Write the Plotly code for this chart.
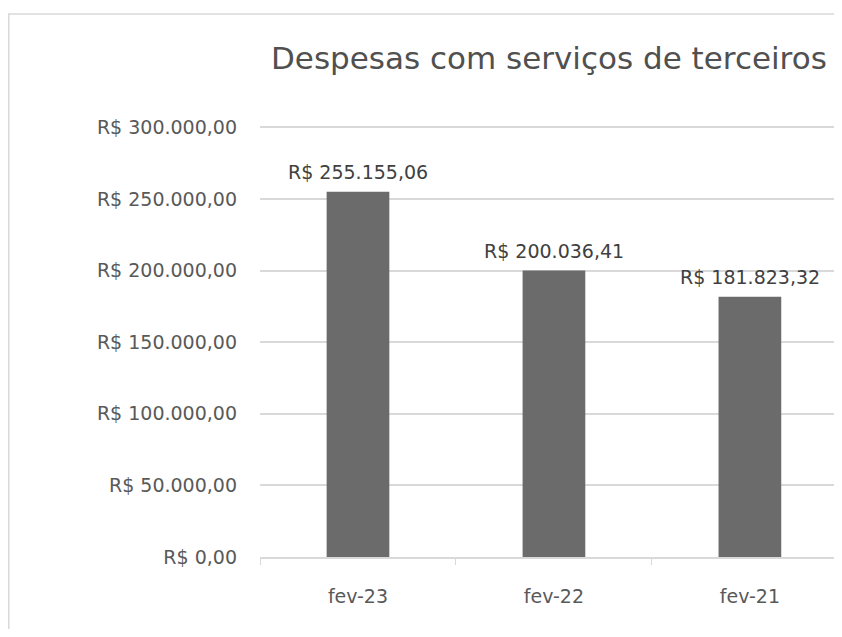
import plotly.graph_objects as go

categories = ["fev-23", "fev-22", "fev-21"]
values = [255155.06, 200036.41, 181823.32]
value_labels = ["R$ 255.155,06", "R$ 200.036,41", "R$ 181.823,32"]
tick_vals = [0, 50000, 100000, 150000, 200000, 250000, 300000]
tick_text = ["R$ 0,00", "R$ 50.000,00", "R$ 100.000,00", "R$ 150.000,00",
             "R$ 200.000,00", "R$ 250.000,00", "R$ 300.000,00"]
title_text = "Despesas com serviços de terceiros"

FONT = "DejaVu Sans, sans-serif"
TXT = "#595959"

W, H = 834, 621
L, T, B = 252, 118, 72
PW, PH = W - L, H - T - B

fig = go.Figure()
fig.add_trace(go.Bar(x=categories, y=values, marker=dict(color="#6b6b6b", line=dict(width=0)),
                     hoverinfo="skip"))

for c, v, t in zip(categories, values, value_labels):
    fig.add_annotation(x=c, y=v, text=t, showarrow=False, yanchor="bottom", yshift=7,
                       font=dict(family=FONT, size=19, color="#404040"))

fig.add_annotation(xref="paper", yref="paper", x=(541 - L) / PW, y=(H - B - 50) / PH,
                   text=title_text, showarrow=False, xanchor="center", yanchor="middle",
                   font=dict(family=FONT, size=31, color="#505050"))

# chart border
fig.add_shape(type="rect", xref="paper", yref="paper",
              x0=(0.75 - L) / PW, x1=1.2, y0=-0.3, y1=(H - B - 6) / PH,
              line=dict(color="#d9d9d9", width=1.5), fillcolor="rgba(0,0,0,0)", layer="below")

fig.update_layout(
    width=W, height=H,
    margin=dict(l=L, r=0, t=T, b=B),
    paper_bgcolor="white", plot_bgcolor="white",
    bargap=0.68, showlegend=False,
    xaxis=dict(range=[-0.5, 2.47], showgrid=False, showline=True, linecolor="#d9d9d9", linewidth=1.5,
               ticks="outside", tickson="boundaries", ticklen=6, tickcolor="#d9d9d9",
               tickfont=dict(family=FONT, size=19, color=TXT), ticklabelstandoff=21,
               fixedrange=True),
    yaxis=dict(range=[0, 301000], tickvals=tick_vals, ticktext=tick_text, showgrid=True,
               gridcolor="#d9d9d9", gridwidth=1.5, zeroline=False, showline=False,
               tickfont=dict(family=FONT, size=19, color=TXT), ticklabelstandoff=22,
               fixedrange=True),
)

fig.write_html("out.html", config={"displayModeBar": False})
